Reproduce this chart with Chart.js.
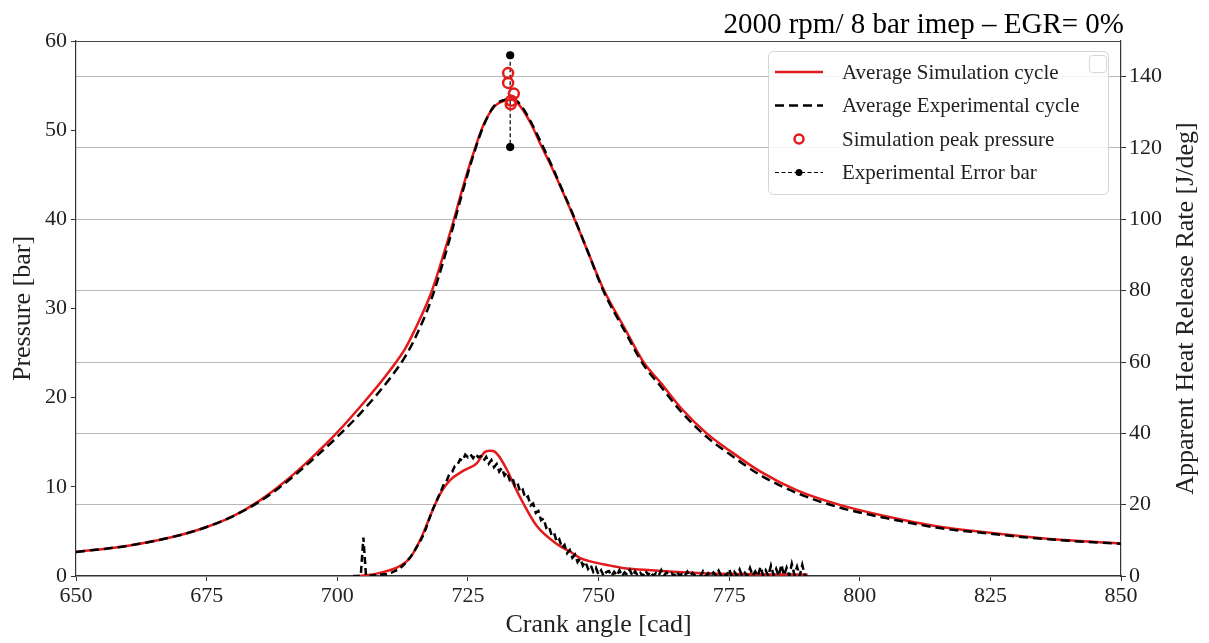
<!DOCTYPE html>
<html>
<head>
<meta charset="utf-8">
<script src="https://cdn.jsdelivr.net/npm/chart.js@4.4.1/dist/chart.umd.min.js"></script>
<style>
    body { margin: 0; background: #fff; }
    #wrap { width: 1209px; height: 643px; }
</style>
</head>
<body>
<div id="wrap"><canvas id="pressureChart" width="1209" height="643"></canvas></div>
<script>
// Pressure traces (left axis, bar)
const simAngle = [650, 660, 670, 675, 680, 685, 690, 695, 700, 705, 710, 713, 715, 718, 720, 722, 724, 726, 728, 730, 732, 733.5, 735, 737, 739, 741, 743, 745, 748, 751, 755, 758.6, 762, 766, 770.7, 775, 781, 788, 796, 805, 815, 825, 832, 840, 850];
const simPressure = [2.7, 3.4, 4.6, 5.5, 6.7, 8.4, 10.6, 13.2, 16.1, 19.4, 23.0, 25.5, 27.8, 31.8, 35.4, 39.3, 43.5, 47.3, 50.6, 52.6, 53.3, 53.4, 52.7, 50.8, 48.3, 45.9, 43.3, 40.6, 36.3, 32.1, 27.8, 24.0, 21.6, 18.7, 16.0, 14.1, 11.7, 9.6, 8.0, 6.7, 5.55, 4.85, 4.41, 4.0, 3.66];
const expPressure = [2.7, 3.4, 4.6, 5.5, 6.7, 8.3, 10.4, 12.9, 15.6, 18.6, 22.1, 24.6, 26.8, 31.0, 34.7, 38.8, 43.1, 47.1, 50.5, 52.7, 53.4, 53.5, 52.9, 51.0, 48.6, 46.1, 43.4, 40.7, 36.3, 31.9, 27.5, 23.7, 21.2, 18.3, 15.6, 13.7, 11.3, 9.3, 7.7, 6.5, 5.4, 4.75, 4.33, 3.95, 3.62];

// Apparent heat release rate (right axis, J/deg)
const simHrrAngle = [704, 706, 708, 710, 712, 714, 716, 718.7, 720, 721.6, 724, 726.7, 728.3, 729.3, 730.2, 732.4, 734, 735.6, 738.2, 742, 744.6, 746.5, 749, 751.6, 755, 760, 764.3, 770, 777, 783, 790];
const simHrr = [0, 0.3, 0.8, 1.6, 2.8, 5.2, 10.5, 20.0, 23.8, 26.9, 29.4, 31.6, 34.8, 35.1, 34.8, 30.0, 25.0, 20.4, 14.0, 9.0, 6.8, 5.0, 3.9, 3.1, 2.2, 1.6, 1.2, 0.8, 0.56, 0.45, 0.4];

// measured HRR, sampled every 0.5 cad starting at 703
const expHrrStart = 703;
const expHrrStep = 0.5;
const expHrr = [
    0, 0, 0, 0, 10.8, 0.1, 0.2, 0.1, 0.3, 0.2, 0.3, 0.4, 0.5, 0.5, 0.8, 1.0, 1.4, 1.7, 2.2, 2.8,
    3.5, 4.4, 5.3, 6.4, 7.6, 8.8, 10.1, 11.6, 13.4, 15.6, 17.6, 19.4, 21.0, 22.7, 24.3, 26.1, 26.9, 28.7, 29.2, 30.8,
    31.1, 32.7, 32.3, 34.0, 33.3, 34.1, 33.0, 34.2, 33.3, 33.6,
    32.3, 33.4, 31.5, 32.5, 30.5, 31.4, 29.3, 30.3, 28.2, 29.1, 26.9, 27.6, 25.3, 26.0, 23.6, 24.2, 21.8, 22.3, 19.8, 20.3,
    17.7, 18.2, 15.6, 16.1, 13.5, 14.0, 11.5, 12.1, 9.6, 10.3, 7.9, 8.7, 6.4, 7.3, 5.1, 6.0, 3.9, 4.9, 2.9, 4.0,
    2.0, 3.1, 1.2, 2.3, 0.4, 1.6, 0.0, 1.1,
    1.4, 0.0, 1.2, 0.1, 1.6, 0.0, 1.0, 0.3, 1.7, 0.0,
    1.3, 0.1, 0.9, 0.0, 1.5, 0.3, 1.2, 0.0, 0.8, 0.1,
    1.6, 0.0, 1.0, 0.3, 0.8, 0.0, 1.3, 0.1, 0.6, 0.0,
    1.2, 0.0, 0.9, 0.1, 0.5, 0.0, 1.3, 0.0, 0.8, 0.0,
    1.0, 0.1, 1.5, 0.0, 0.6, 0.0, 1.9, 0.0, 1.2, 0.1,
    1.8, 0.0, 0.9, 0.0, 2.2, 0.1, 1.3, 0.0, 2.6, 0.2,
    1.6, 0.0, 2.9, 0.3, 2.0, 0.0, 3.2, 0.2, 2.3, 0.0,
    3.4, 0.3, 2.6, 0.0, 3.1, 0.1, 0.0
];

// peak pressure markers and experimental error bar
const peakAngle = [732.7, 732.7, 733.8, 733.3, 733.2];
const peakPressure = [56.4, 55.3, 54.1, 53.3, 52.9];
const errAngle = [733.1, 733.1];
const errPressure = [58.4, 48.1];

const xTicks = [650, 675, 700, 725, 750, 775, 800, 825, 850];

const chartTitle = "2000 rpm/ 8 bar imep \u2013 EGR= 0%";
const rightTitle = "Apparent Heat Release Rate [J/deg]";
const legendLabels = ["Average Simulation cycle", "Average Experimental cycle", "Simulation peak pressure", "Experimental Error bar"];

const serif = "'Liberation Serif', 'DejaVu Serif', serif";

function toPoints(xs, ys) {
    return ys.map((y, i) => ({ x: xs[i], y: y }));
}

var expHrrPoints = expHrr.map((v, i) => ({ x: expHrrStart + i * expHrrStep, y: v }));

// frame, titles and legend drawn on top
const decorPlugin = {
    id: 'decor',
    afterDraw(chart) {
        const ctx = chart.ctx;
        const a = chart.chartArea;
        ctx.save();

        // top spine
        ctx.strokeStyle = '#444';
        ctx.lineWidth = 1.2;
        ctx.beginPath();
        ctx.moveTo(a.left, a.top + 0.5);
        ctx.lineTo(a.right, a.top + 0.5);
        ctx.stroke();

        // title
        ctx.fillStyle = '#000';
        ctx.font = "29px " + serif;
        ctx.textAlign = 'right';
        ctx.textBaseline = 'alphabetic';
        ctx.fillText(chartTitle, a.right + 3, 33);

        // right axis title (reads bottom to top)
        ctx.save();
        ctx.translate(1186, (a.top + a.bottom) / 2);
        ctx.rotate(-Math.PI / 2);
        ctx.font = "26px " + serif;
        ctx.textAlign = 'center';
        ctx.textBaseline = 'middle';
        ctx.fillStyle = '#222';
        ctx.fillText(rightTitle, 0, 0);
        ctx.restore();

        // legend box
        const bx = a.right - 353, by = a.top + 10, bw = 340, bh = 143;
        ctx.beginPath();
        ctx.roundRect(bx + 0.5, by + 0.5, bw, bh, 5);
        ctx.fillStyle = 'rgba(255,255,255,0.85)';
        ctx.fill();
        ctx.strokeStyle = '#d4d4d4';
        ctx.lineWidth = 1;
        ctx.stroke();

        // the stray empty legend in the corner
        ctx.beginPath();
        ctx.roundRect(bx + bw - 18.5, by + 4.5, 17, 17, 3);
        ctx.fillStyle = '#fff';
        ctx.fill();
        ctx.strokeStyle = '#d4d4d4';
        ctx.stroke();

        const rows = [by + 21, by + 54.5, by + 88, by + 121.5];
        const x0 = bx + 7, x1 = bx + 55, xm = (x0 + x1) / 2;

        ctx.lineWidth = 2.5;
        ctx.strokeStyle = '#e41a1a';
        ctx.beginPath(); ctx.moveTo(x0, rows[0]); ctx.lineTo(x1, rows[0]); ctx.stroke();

        ctx.strokeStyle = '#000';
        ctx.setLineDash([9, 5]);
        ctx.beginPath(); ctx.moveTo(x0, rows[1]); ctx.lineTo(x1, rows[1]); ctx.stroke();

        ctx.setLineDash([]);
        ctx.strokeStyle = '#e41a1a';
        ctx.lineWidth = 2.5;
        ctx.beginPath(); ctx.arc(xm, rows[2], 4.5, 0, Math.PI * 2); ctx.stroke();

        ctx.strokeStyle = '#000';
        ctx.lineWidth = 1.2;
        ctx.setLineDash([4, 2.5]);
        ctx.beginPath(); ctx.moveTo(x0, rows[3]); ctx.lineTo(x1, rows[3]); ctx.stroke();
        ctx.setLineDash([]);
        ctx.fillStyle = '#000';
        ctx.beginPath(); ctx.arc(xm, rows[3], 3.5, 0, Math.PI * 2); ctx.fill();

        ctx.fillStyle = '#222';
        ctx.font = "21px " + serif;
        ctx.textAlign = 'left';
        ctx.textBaseline = 'middle';
        legendLabels.forEach((t, i) => ctx.fillText(t, bx + 74, rows[i] + 1));

        ctx.restore();
    }
};

var ctx = document.getElementById('pressureChart').getContext('2d');
new Chart(ctx, {
    type: 'scatter',
    data: {
        datasets: [
            {
                label: legendLabels[2],
                data: toPoints(peakAngle, peakPressure),
                yAxisID: 'y',
                showLine: false,
                pointRadius: 5,
                pointBorderWidth: 2.5,
                pointBorderColor: '#e41a1a',
                pointBackgroundColor: 'rgba(0,0,0,0)',
                order: 0
            },
            {
                label: legendLabels[3],
                data: toPoints(errAngle, errPressure),
                yAxisID: 'y',
                showLine: true,
                borderColor: '#000',
                borderWidth: 1.2,
                borderDash: [4, 2.5],
                pointRadius: 3.5,
                pointBackgroundColor: '#000',
                pointBorderColor: '#000',
                order: 1
            },
            {
                label: legendLabels[1],
                data: toPoints(simAngle, expPressure),
                yAxisID: 'y',
                showLine: true,
                borderColor: '#000',
                borderWidth: 2.5,
                borderDash: [9, 5],
                pointRadius: 0,
                cubicInterpolationMode: 'monotone',
                order: 2
            },
            {
                label: legendLabels[0],
                data: toPoints(simAngle, simPressure),
                yAxisID: 'y',
                showLine: true,
                borderColor: '#e41a1a',
                borderWidth: 2.5,
                pointRadius: 0,
                cubicInterpolationMode: 'monotone',
                order: 3
            },
            {
                label: 'Experimental HRR',
                data: expHrrPoints,
                yAxisID: 'y2',
                showLine: true,
                borderColor: '#000',
                borderWidth: 2.5,
                borderDash: [7, 4],
                pointRadius: 0,
                order: 4
            },
            {
                label: 'Simulation HRR',
                data: toPoints(simHrrAngle, simHrr),
                yAxisID: 'y2',
                showLine: true,
                borderColor: '#e41a1a',
                borderWidth: 2.5,
                pointRadius: 0,
                cubicInterpolationMode: 'monotone',
                order: 5
            }
        ]
    },
    options: {
        responsive: false,
        animation: false,
        layout: { padding: { top: 41, left: 0, right: 0, bottom: 0 } },
        plugins: {
            legend: { display: false },
            tooltip: { enabled: false },
            title: { display: false }
        },
        scales: {
            x: {
                type: 'linear',
                min: 650,
                max: 850,
                afterBuildTicks: (s) => { s.ticks = xTicks.map(v => ({ value: v })); },
                afterFit: (s) => { s.height = 67; },
                grid: { drawOnChartArea: false, tickLength: 5, tickColor: '#333' },
                border: { color: '#333', width: 1.2 },
                ticks: { color: '#222', padding: 2, font: { family: serif, size: 22 } },
                title: { display: true, text: 'Crank angle [cad]', color: '#222', padding: { top: 0, bottom: 2 }, font: { family: serif, size: 26 } }
            },
            y: {
                position: 'left',
                min: 0,
                max: 60,
                ticks: { stepSize: 10, color: '#222', padding: 4, font: { family: serif, size: 22 } },
                afterFit: (s) => { s.width = 76; },
                grid: { drawOnChartArea: false, tickLength: 5, tickColor: '#333' },
                border: { color: '#333', width: 1.2 },
                title: { display: true, text: 'Pressure [bar]', color: '#222', padding: { top: 8, bottom: 0 }, font: { family: serif, size: 26 } }
            },
            y2: {
                position: 'right',
                min: 0,
                max: 150,
                ticks: { stepSize: 20, color: '#222', padding: 3, font: { family: serif, size: 22 } },
                afterBuildTicks: (s) => { s.ticks = s.ticks.filter(t => t.value % 20 === 0); },
                afterFit: (s) => { s.width = 88; },
                grid: { drawOnChartArea: true, color: '#b8b8b8', lineWidth: 1, tickLength: 5, tickColor: '#333' },
                border: { color: '#333', width: 1.2 }
            }
        }
    },
    plugins: [decorPlugin]
});
</script>
</body>
</html>
